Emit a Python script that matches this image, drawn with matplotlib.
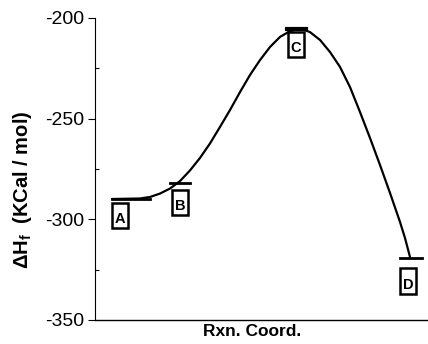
import matplotlib
matplotlib.use("Agg")
import matplotlib.pyplot as plt
from matplotlib.ticker import MultipleLocator
from matplotlib.patches import Rectangle

plt.rcParams['font.family'] = ['Liberation Sans', 'DejaVu Sans']
plt.rcParams['mathtext.fontset'] = 'custom'
plt.rcParams['mathtext.rm'] = 'Liberation Sans:bold'
plt.rcParams['mathtext.bf'] = 'Liberation Sans:bold'
plt.rcParams['axes.unicode_minus'] = False

# curve (reaction coordinate in arbitrary units, enthalpy in kcal/mol)
curve_x = [17, 45, 55, 65, 75, 85, 95, 105, 115, 125, 135, 145, 155, 165, 175,
           185, 195, 202, 208, 215, 225, 235, 245, 255, 265, 275, 285, 295,
           305, 310, 315]
curve_y = [-289.9, -289.65, -288.9, -287.2, -284.7, -281.0, -275.7, -269.5,
           -262.3, -254.1, -245.7, -236.8, -228.3, -220.9, -214.4, -209.4,
           -206.5, -205.7, -205.7, -207.0, -210.9, -216.9, -224.3, -234.3,
           -246.7, -259.6, -273.0, -286.9, -301.3, -309.3, -318.7]

# energy levels
level_names = ['A', 'B', 'C', 'D']
level_x0 = [17, 75, 192, 305]
level_x1 = [55, 95, 211, 327]
level_y = [-290, -282, -205.5, -319]
# label boxes (left, top, bottom) and letter centres
box_x0 = [17, 77, 193, 305]
box_w = 16
box_top = [-291.9, -285.4, -207.0, -324.2]
box_bot = [-304.3, -297.9, -219.4, -337.0]
label_y = [-300.0, -293.5, -215.0, -332.5]

fig = plt.figure(figsize=(4.28, 3.44), dpi=100)
ax = fig.add_axes([95/428, 24/344, 333/428, 302/344])

ax.plot(curve_x, curve_y, color='black', lw=1.6, solid_capstyle='round',
        solid_joinstyle='round')
for x0, x1, y, nm in zip(level_x0, level_x1, level_y, level_names):
    ax.plot([x0, x1], [y, y], color='black', lw=2.0 if nm != 'C' else 3.0)
for nm, bx, bt, bb, ly in zip(level_names, box_x0, box_top, box_bot, label_y):
    ax.add_patch(Rectangle((bx, bb), box_w, bt - bb, fc='white', ec='black', lw=1.8))
    ax.text(bx + box_w / 2, ly, nm, ha='center', va='center', fontsize=10.5,
            fontweight='bold')

ax.set_xlim(0, 333)
ax.set_ylim(-350, -200)
ax.yaxis.set_major_locator(MultipleLocator(50))
ax.yaxis.set_minor_locator(MultipleLocator(25))
ax.set_xticks([])
ax.tick_params(axis='y', which='major', direction='out', length=5, width=0.8,
               labelsize=14, pad=3)
ax.tick_params(axis='y', which='minor', direction='in', length=3, width=0.8)
for s in ['top', 'right']:
    ax.spines[s].set_visible(False)
ax.spines['left'].set_linewidth(0.8)
ax.spines['bottom'].set_linewidth(1.0)

fig.text(23/428, 1 - 190/344, r'ΔH$_\mathbf{f}$  (KCal / mol)', rotation=90,
         ha='center', va='center', fontsize=14.5, fontweight='bold')
fig.text(252/428, 1 - 332/344, 'Rxn. Coord.', ha='center', va='center',
         fontsize=12.5, fontweight='bold')

fig.savefig('out.png', dpi=100)
